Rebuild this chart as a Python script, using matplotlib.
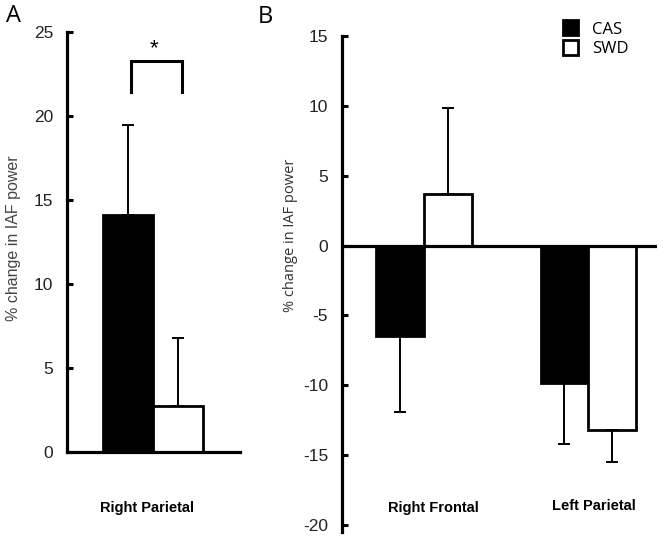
import matplotlib
matplotlib.use("Agg")
import matplotlib.pyplot as plt

plt.rcParams["axes.unicode_minus"] = False

# data
groups_a = ["Right Parietal"]
cas_a = [14.1]
cas_a_err = [5.35]
swd_a = [2.75]
swd_a_err = [4.05]

groups_b = ["Right Frontal", "Left Parietal"]
cas_b = [-6.5, -9.85]
cas_b_err = [5.4, 4.35]
swd_b = [3.67, -13.2]
swd_b_err = [6.2, 2.3]

W, H = 664, 540
fig = plt.figure(figsize=(W / 100, H / 100), dpi=100)

def px(x0, y0, x1, y1):
    # pixel box -> figure fraction
    return [x0 / W, 1 - y1 / H, (x1 - x0) / W, (y1 - y0) / H]

tick_font = "Liberation Sans"
lab_font = "Open Sans"
lw_axis = 2.3

def one_side(vals, errs):
    lo = [e if v < 0 else 0 for v, e in zip(vals, errs)]
    hi = [e if v >= 0 else 0 for v, e in zip(vals, errs)]
    return [lo, hi]

def style(ax):
    for s in ["top", "right"]:
        ax.spines[s].set_visible(False)
    ax.spines["left"].set_linewidth(lw_axis)
    ax.tick_params(axis="y", direction="in", length=4, width=2.2, pad=10,
                   labelsize=12.5, labelcolor="#222222")
    ax.tick_params(axis="x", length=0, labelbottom=False)
    for t in ax.get_yticklabels():
        t.set_fontfamily(tick_font)

# ---- panel A ----
ax1 = fig.add_axes(px(67, 32, 240, 452))
xa = list(range(len(groups_a)))
ax1.bar([x for x in xa], cas_a, width=1.0, color="black", edgecolor="black", linewidth=2,
        yerr=one_side(cas_a, cas_a_err), capsize=4,
        error_kw=dict(elinewidth=1.4, capthick=1.4, ecolor="black"))
ax1.bar([x + 1 for x in xa], swd_a, width=1.0, color="white", edgecolor="black", linewidth=2,
        yerr=one_side(swd_a, swd_a_err), capsize=4,
        error_kw=dict(elinewidth=1.4, capthick=1.4, ecolor="black"))
ax1.set_xlim(-1.22, 2.24)
ax1.set_ylim(0, 25)
ax1.set_yticks([0, 5, 10, 15, 20, 25])
ax1.spines["bottom"].set_linewidth(lw_axis)
style(ax1)
# significance bracket
ax1.plot([0.06, 0.06, 1.08, 1.08], [21.4, 23.3, 23.3, 21.4], color="black",
         lw=2.2, solid_joinstyle="miter", clip_on=False)
ax1.text(0.52, 24.0, "*", ha="center", va="center", fontsize=16, family=tick_font)

# ---- panel B ----
ax2 = fig.add_axes(px(342, 36, 657, 532))
xb = list(range(len(groups_b)))
bw = 0.29
b1 = ax2.bar([x - bw / 2 for x in xb], cas_b, width=bw, color="black", edgecolor="black",
             linewidth=2, yerr=one_side(cas_b, cas_b_err), capsize=4,
             error_kw=dict(elinewidth=1.4, capthick=1.4, ecolor="black"), label="CAS")
b2 = ax2.bar([x + bw / 2 for x in xb], swd_b, width=bw, color="white", edgecolor="black",
             linewidth=2, yerr=one_side(swd_b, swd_b_err), capsize=4,
             error_kw=dict(elinewidth=1.4, capthick=1.4, ecolor="black"), label="SWD")
ax2.set_xlim(-0.5, 1.42)
ax2.set_ylim(-20.5, 15)
ax2.set_yticks([-20, -15, -10, -5, 0, 5, 10, 15])
ax2.spines["bottom"].set_visible(False)
ax2.axhline(0, color="black", lw=lw_axis, zorder=5)
style(ax2)

# y labels
fig.text(14 / W, 1 - 238 / H, "% change in IAF power", rotation=90, ha="center", va="center",
         fontsize=11.5, family=tick_font, color="#444444")
fig.text(290 / W, 1 - 235 / H, "% change in IAF power", rotation=90, ha="center", va="center",
         fontsize=10.5, family=lab_font, color="#333333")

fig.legend(handles=[b1, b2], labels=["CAS", "SWD"], loc="upper left",
           bbox_to_anchor=(555 / W, 1 - 12 / H), frameon=False,
           prop=dict(family=lab_font, size=12), handlelength=0.9, handleheight=1.0,
           handletextpad=0.8, labelspacing=0.15, borderpad=0)

# category labels
fig.text(147 / W, 1 - 508 / H, groups_a[0], ha="center", va="center",
         fontsize=10.5, fontweight="bold", family=tick_font)
fig.text(433 / W, 1 - 508 / H, groups_b[0], ha="center", va="center",
         fontsize=10.5, fontweight="bold", family=tick_font)
fig.text(594 / W, 1 - 506 / H, groups_b[1], ha="center", va="center",
         fontsize=10.5, fontweight="bold", family=tick_font)

# panel letters
fig.text(13 / W, 1 - 16 / H, "A", ha="center", va="center", fontsize=17, family=lab_font)
fig.text(265 / W, 1 - 17 / H, "B", ha="center", va="center", fontsize=17, family=lab_font)

fig.savefig("out.png", dpi=100)
